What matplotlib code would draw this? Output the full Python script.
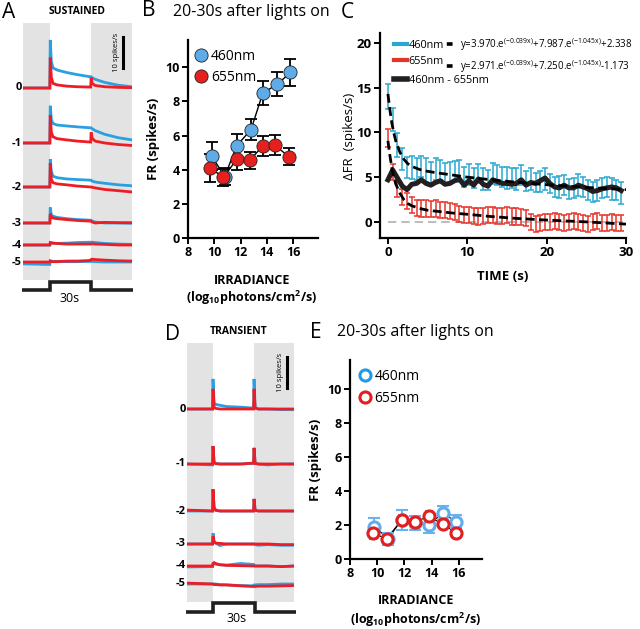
import numpy as np
import matplotlib
matplotlib.use('Agg')
import matplotlib.pyplot as plt
from matplotlib.lines import Line2D

plt.rcParams['font.family'] = ['Open Sans', 'DejaVu Sans']
plt.rcParams['mathtext.fontset'] = 'custom'
plt.rcParams['mathtext.rm'] = 'Open Sans'
plt.rcParams['mathtext.it'] = 'Open Sans:italic'
plt.rcParams['mathtext.bf'] = 'Open Sans:bold'

W, H = 640, 629

# ---------------- panel A / D : PSTH traces (spikes/s above baseline) -------------
LEVELS = ['0', '-1', '-2', '-3', '-4', '-5']

T_SUST = [-20, -0.3, 0, 0.8, 2, 5, 12, 20, 29.7, 30, 30.8, 33, 40, 50, 60]
SUST_BLUE = [
    [0, 0, 15.5, 8.5, 6.5, 5.8, 5.0, 4.3, 3.6, 3.6, 3.3, 2.8, 1.8, 0.9, 0.4],
    [0, 0, 12.0, 7.5, 6.3, 5.8, 5.5, 5.2, 4.9, 4.9, 4.6, 4.0, 2.8, 1.7, 1.0],
    [0, 0, 9.0, 5.0, 3.5, 3.0, 2.6, 2.4, 2.2, 2.2, 1.9, 1.6, 1.2, 0.7, 0.4],
    [0, 0, 5.0, 2.6, 2.2, 1.8, 1.4, 1.1, 0.9, 0.9, 0.6, 0.3, 0.0, 0.0, -0.1],
    [0, 0, 0.6, 0.7, 0.6, 0.5, 0.6, 0.8, 0.9, 0.9, 0.9, 0.8, 0.5, 0.3, 0.2],
    [-0.6, -0.8, 0.4, 0.3, 0.2, 0.2, 0.1, 0.1, 0.2, 0.2, 0.2, 0.1, 0.0, 0.0, 0.0],
]
SUST_RED = [
    [0, 0, 9.8, 3.5, 1.5, 1.0, 0.6, 0.4, 0.3, 3.3, 1.5, 0.8, 0.4, 0.2, 0.1],
    [0, 0, 9.0, 3.5, 2.0, 1.4, 1.0, 0.6, 0.3, 3.4, 1.5, 0.6, 0.0, -0.5, -0.8],
    [0, 0, 7.7, 2.5, 1.4, 1.0, 0.7, 0.3, 0.0, 0.0, -0.1, -0.3, -0.8, -1.2, -1.6],
    [0, 0, 3.0, 2.0, 1.6, 1.4, 1.1, 0.8, 0.6, 0.6, 0.3, 0.0, 0.2, 0.1, 0.1],
    [0, 0, 0.8, 0.7, 0.6, 0.5, 0.3, 0.3, 0.3, 0.3, 0.4, 0.3, 0.2, 0.0, 0.0],
    [0, 0, 0.3, 0.2, 0.1, 0.1, 0.3, 0.3, 0.5, 0.8, 0.9, 0.8, 0.6, 0.4, 0.3],
]

T_TRANS = [-19, -0.3, 0, 0.8, 2, 5, 10, 20, 29.7, 30, 30.8, 33, 40, 50, 59.2]
TRANS_BLUE = [
    [0, 0, 9.7, 2.0, 1.5, 1.2, 0.8, 0.6, 0.3, 9.7, 0.5, 0.0, 0.0, -0.2, -0.2],
    [0, -0.3, 5.8, 0.6, 0.2, 0.0, 0.0, 0.0, 0.2, 5.2, 0.3, 0.0, -0.3, 0.0, 0.0],
    [0, 0, 7.0, 1.0, 0.3, 0.0, 0.0, 0.0, 0.0, 3.9, 0.3, 0.0, 0.0, 0.0, 0.0],
    [0, 0, 3.5, 0.8, 0.3, -0.5, 0.0, 0.0, 0.0, 0.0, -0.2, -0.4, -0.2, -0.4, -0.4],
    [-0.3, -0.2, 0.7, 0.8, 0.6, 0.4, 0.3, 0.8, 0.5, 0.3, 0.0, 0.0, 0.0, -0.2, 0.0],
    [0, 0, 0.0, 0.0, 0.0, -0.2, -0.3, -0.5, -0.6, -0.3, -0.3, -0.2, -0.2, 0.0, 0.0],
]
TRANS_RED = [
    [0, 0, 6.5, 0.5, 0.2, 0.0, 0.0, 0.0, 0.0, 6.5, 0.3, 0.0, 0.0, 0.0, 0.0],
    [0, 0, 5.8, 0.5, 0.1, 0.0, 0.0, 0.0, 0.3, 5.2, 0.2, 0.0, 0.0, 0.0, 0.0],
    [0.3, 0, 7.0, 1.2, 0.2, 0.0, 0.0, 0.0, 0.0, 3.9, 0.2, 0.0, 0.0, 0.0, 0.0],
    [0, 0, 2.5, 0.6, 0.3, 0.2, 0.0, 0.0, 0.0, 0.0, 0.0, 0.0, 0.0, -0.2, -0.2],
    [0, 0, 0.8, 1.1, 0.8, 0.4, 0.2, 0.1, 0.0, 0.0, 0.0, 0.0, 0.0, -0.2, 0.0],
    [0.3, 0, 0.0, -0.2, -0.2, -0.3, -0.3, -0.6, -0.8, -0.8, -0.8, -0.7, -0.7, -0.6, -0.5],
]

STIM_T = [-20, 0, 0, 30, 30, 60]
STIM_ON = [0, 0, 1, 1, 0, 0]

# ---------------- panel B / E : FR vs irradiance -----------------
IRR_B_460 = [9.8, 10.8, 11.7, 12.8, 13.7, 14.8, 15.8]
FR_B_460 = [4.8, 3.6, 5.4, 6.35, 8.5, 9.0, 9.7]
ERR_B_460 = [0.8, 0.5, 0.7, 0.6, 0.7, 0.7, 0.8]
IRR_B_655 = [9.7, 10.7, 11.7, 12.7, 13.7, 14.6, 15.7]
FR_B_655 = [4.1, 3.55, 4.6, 4.55, 5.4, 5.45, 4.75]
ERR_B_655 = [0.8, 0.5, 0.6, 0.5, 0.6, 0.6, 0.5]

IRR_E_460 = [9.8, 10.8, 11.8, 12.8, 13.8, 14.8, 15.8]
FR_E_460 = [1.9, 1.2, 2.3, 2.1, 2.0, 2.7, 2.2]
ERR_E_460 = [0.5, 0.35, 0.6, 0.4, 0.5, 0.4, 0.4]
IRR_E_655 = [9.7, 10.7, 11.8, 12.8, 13.8, 14.8, 15.8]
FR_E_655 = [1.5, 1.2, 2.3, 2.2, 2.5, 2.05, 1.55]
ERR_E_655 = [0.3, 0.3, 0.3, 0.3, 0.3, 0.3, 0.3]

# ---------------- panel C : delta FR over time -----------------
TIME_C = np.arange(50) * 0.6
DFR_460 = [14.0, 11.4, 8.6, 7.0, 6.1, 6.1, 5.9, 6.2, 5.8, 5.5,
           5.9, 5.8, 5.4, 5.5, 5.7, 5.7, 5.0, 5.3, 4.9, 5.4,
           4.8, 4.7, 5.4, 5.2, 5.0, 4.9, 4.9, 4.8, 5.2, 4.6,
           4.8, 4.4, 4.5, 4.8, 4.3, 3.9, 3.9, 4.1, 3.7, 3.8,
           4.1, 3.9, 3.6, 3.3, 3.5, 3.8, 3.9, 3.7, 3.6, 3.2]
SEM_460 = [1.4, 1.3, 1.3, 1.2, 1.2, 1.3, 1.2, 1.2, 1.3, 1.2,
           1.2, 1.1, 1.2, 1.2, 1.1, 1.2, 1.1, 1.2, 1.1, 1.1,
           1.2, 1.1, 1.2, 1.1, 1.1, 1.2, 1.1, 1.2, 1.1, 1.1,
           1.2, 1.1, 1.2, 1.2, 1.1, 1.1, 1.2, 1.1, 1.1, 1.1,
           1.2, 1.1, 1.1, 1.1, 1.2, 1.1, 1.1, 1.2, 1.1, 1.2]
DFR_655 = [9.4, 5.6, 3.7, 2.8, 2.3, 1.9, 1.6, 1.5, 1.5, 1.4,
           1.5, 1.3, 1.3, 1.2, 1.1, 0.9, 0.8, 0.8, 0.7, 0.6,
           0.7, 0.8, 0.8, 0.7, 0.7, 0.8, 0.6, 0.6, 0.5, 0.4,
           0.0, -0.2, -0.1, 0.0, 0.0, 0.1, 0.0, -0.1, 0.0, 0.1,
           0.0, -0.1, -0.2, 0.0, 0.1, -0.1, -0.1, 0.0, -0.1, -0.1]
SEM_655 = [1.0, 0.9, 0.9, 0.9, 0.9, 0.9, 0.9, 0.9, 0.9, 0.9,
           0.9, 0.9, 0.9, 0.9, 0.9, 0.9, 0.9, 0.9, 0.9, 0.9,
           0.9, 0.9, 0.9, 0.9, 0.9, 0.9, 0.9, 0.9, 0.9, 0.9,
           0.9, 0.9, 0.9, 0.9, 0.9, 0.9, 0.9, 0.9, 0.9, 0.9,
           0.9, 0.9, 0.9, 0.9, 0.9, 0.9, 0.9, 0.9, 0.9, 0.9]
DFR_DIFF = [4.7, 5.8, 4.9, 4.0, 3.6, 4.2, 4.3, 4.7, 4.3, 4.1,
            4.4, 4.6, 4.2, 4.3, 4.6, 4.8, 4.1, 4.6, 4.1, 4.8,
            4.2, 4.0, 4.7, 4.5, 4.3, 4.3, 4.2, 4.3, 4.7, 4.1,
            4.4, 4.3, 4.6, 4.9, 4.3, 3.9, 3.8, 4.1, 3.8, 3.8,
            4.1, 3.9, 3.7, 3.4, 3.5, 3.7, 3.8, 3.9, 3.8, 3.5]
FIT_T = [0, 0.25, 0.5, 0.75, 1, 1.5, 2, 2.5, 3, 4, 5, 6, 8, 10, 13, 16, 20, 25, 30]
FIT_460 = [14.3, 12.5, 11.0, 9.9, 9.0, 7.8, 7.0, 6.5, 6.2, 5.85, 5.65, 5.5, 5.25, 5.0, 4.7, 4.45, 4.15, 3.85, 3.6]
FIT_655 = [9.05, 7.4, 6.0, 5.0, 4.2, 3.2, 2.5, 2.05, 1.8, 1.5, 1.3, 1.2, 1.0, 0.85, 0.6, 0.4, 0.2, 0.0, -0.25]
EQ_460 = r'y=3.970.e$^{\mathrm{(-0.039x)}}$+7.987.e$^{\mathrm{(-1.045x)}}$+2.338'
EQ_655 = r'y=2.971.e$^{\mathrm{(-0.039x)}}$+7.250.e$^{\mathrm{(-1.045x)}}$-1.173'

TR_BLUE = '#2a9fe2'
TR_RED = '#ee1c24'
GRAY = '#e3e3e3'

fig = plt.figure(figsize=(W / 100, H / 100), dpi=100)


def px_axes(l, t, r, b):
    return fig.add_axes([l / W, 1 - b / H, (r - l) / W, (b - t) / H])


def ftext(x, y, s, **kw):
    kw.setdefault('ha', 'center')
    kw.setdefault('va', 'center')
    fig.text(x / W, 1 - y / H, s, **kw)


def trace_panel(box, tlim, scale, bases, t, blue, red, bar_t, bar_y):
    ax = px_axes(*box)
    ax.set_xlim(*tlim)
    ax.set_ylim(0, scale)
    ax.axvspan(tlim[0], 0, color=GRAY, lw=0)
    ax.axvspan(30, tlim[1], color=GRAY, lw=0)
    for i, lab in enumerate(LEVELS):
        ax.plot(t, np.array(blue[i]) + bases[i], color=TR_BLUE, lw=2.0, solid_joinstyle='miter')
        ax.plot(t, np.array(red[i]) + bases[i], color=TR_RED, lw=2.0, solid_joinstyle='miter')
        ax.text(tlim[0] - 0.8, bases[i], lab, ha='right', va='center', fontsize=8,
                fontweight='bold')
    ax.plot([bar_t, bar_t], [bar_y, bar_y - 10], color='black', lw=2.2, clip_on=False)
    ax.text(bar_t - 5, bar_y - 5, '10 spikes/s', rotation=90, ha='center', va='center',
            fontsize=5.5)
    ax.axis('off')
    return ax


def stim_panel(box, tlim, ylim):
    ax = px_axes(*box)
    ax.plot(STIM_T, STIM_ON, color='#231f20', lw=2.6, solid_joinstyle='miter')
    ax.set_xlim(tlim[0] - 0.8, tlim[1] + 0.8)
    ax.set_ylim(*ylim)
    ax.axis('off')


# panel A
base_a = [(280 - p) / 3.1 for p in (88, 143, 187, 223, 245, 262)]
trace_panel((23, 23, 132, 280), (-20, 60), 257 / 3.1, base_a, T_SUST, SUST_BLUE, SUST_RED,
            53.4, 78.4)
stim_panel((22, 278, 133, 296), (-20, 60), (-0.75, 1.5))
ftext(2, 13, 'A', fontsize=15, ha='left')
ftext(77, 12, 'SUSTAINED', fontsize=7.5, fontweight='bold')
ftext(70, 298, '30s', fontsize=9)

# panel D
base_d = [(602 - p) / 3.1 for p in (409, 464, 511, 544, 566, 584)]
trace_panel((187, 343, 294, 602), (-19, 59.2), 259 / 3.1, base_d, T_TRANS, TRANS_BLUE,
            TRANS_RED, 54.0, 79.0)
stim_panel((186, 598, 296, 616), (-19, 59.2), (-0.444, 1.556))
ftext(165, 334, 'D', fontsize=15, ha='left')
ftext(239, 332, 'TRANSIENT', fontsize=7.5, fontweight='bold')
ftext(237, 619, '30s', fontsize=9)


def style_axes(ax):
    for s in ('top', 'right'):
        ax.spines[s].set_visible(False)
    for s in ('left', 'bottom'):
        ax.spines[s].set_linewidth(1.6)
    ax.tick_params(width=1.4, length=4, labelsize=9, pad=2)
    for lab in ax.get_xticklabels() + ax.get_yticklabels():
        lab.set_fontweight('bold')


def irradiance_panel(box, xmax, ymax):
    ax = px_axes(*box)
    ax.set_xlim(8, xmax)
    ax.set_ylim(0, ymax)
    ax.set_xticks([8, 10, 12, 14, 16])
    ax.set_yticks([0, 2, 4, 6, 8, 10])
    style_axes(ax)
    return ax


# panel B
axb = irradiance_panel((188, 40, 318, 238), 17.9, 11.6)
axb.plot(IRR_B_460, FR_B_460, color='black', lw=1, zorder=2)
axb.plot(IRR_B_655, FR_B_655, color='black', lw=1, zorder=2)
axb.errorbar(IRR_B_460, FR_B_460, yerr=ERR_B_460, fmt='none', ecolor='black', elinewidth=1.3,
             capsize=4, capthick=1.3, zorder=1)
axb.errorbar(IRR_B_655, FR_B_655, yerr=ERR_B_655, fmt='none', ecolor='black', elinewidth=1.3,
             capsize=4, capthick=1.3, zorder=1)
hb1, = axb.plot(IRR_B_460, FR_B_460, 'o', ms=9.5, mfc='#5eabe8', mec='#222222', mew=0.6,
                zorder=3, label='460nm')
hb2, = axb.plot(IRR_B_655, FR_B_655, 'o', ms=9.5, mfc='#e5201e', mec='#222222', mew=0.6,
                zorder=3, label='655nm')
axb.legend(handles=[hb1, hb2], loc='upper left', bbox_to_anchor=(0.06, 0.955), frameon=False,
           fontsize=10, handlelength=0.8, handletextpad=0.3, labelspacing=0.45,
           borderaxespad=0, borderpad=0)
axb.set_ylabel('FR (spikes/s)', fontsize=9.5, fontweight='bold')
ftext(142, 11, 'B', fontsize=15, ha='left')
ftext(173, 12, '20-30s after lights on', fontsize=11.5, ha='left')
ftext(252, 280, 'IRRADIANCE', fontsize=9, fontweight='bold')
ftext(252, 298, r'(log$_{\mathbf{10}}$photons/cm$^{\mathbf{2}}$/s)', fontsize=9,
      fontweight='bold')

# panel E
axe = irradiance_panel((350, 360, 482, 559), 17.7, 11.7)
axe.plot(IRR_E_460, FR_E_460, color='black', lw=0.8, zorder=2)
axe.plot(IRR_E_655, FR_E_655, color='black', lw=0.8, zorder=2)
axe.errorbar(IRR_E_460, FR_E_460, yerr=ERR_E_460, fmt='none', ecolor='#6cb2ee', elinewidth=1.5,
             capsize=4, capthick=1.5, zorder=3)
he1, = axe.plot(IRR_E_460, FR_E_460, 'o', ms=8, mfc='white', mec='#62acec', mew=2.2,
                zorder=4, label='460nm')
axe.errorbar(IRR_E_655, FR_E_655, yerr=ERR_E_655, fmt='none', ecolor='#e21f1f', elinewidth=1.2,
             capsize=3, capthick=1.2, zorder=1)
he2, = axe.plot(IRR_E_655, FR_E_655, 'o', ms=8, mfc='white', mec='#e21f1f', mew=2.2,
                zorder=5, label='655nm')
leg_e = axe.legend(handles=[he1, he2], loc='upper left', bbox_to_anchor=(0.07, 0.955),
                   frameon=False, fontsize=10, handlelength=0.8, handletextpad=0.3,
                   labelspacing=0.5, borderaxespad=0, borderpad=0)
leg_e.legend_handles[0].set_markeredgecolor('#1c9be6')
axe.set_ylabel('FR (spikes/s)', fontsize=9.5, fontweight='bold')
ftext(310, 332, 'E', fontsize=15, ha='left')
ftext(337, 332, '20-30s after lights on', fontsize=11.5, ha='left')
ftext(416, 601, 'IRRADIANCE', fontsize=9, fontweight='bold')
ftext(416, 620, r'(log$_{\mathbf{10}}$photons/cm$^{\mathbf{2}}$/s)', fontsize=9,
      fontweight='bold')

# panel C
axc = px_axes(380, 33, 626, 238)
axc.set_xlim(-1, 30)
axc.set_ylim(-1.8, 21.1)
axc.set_xticks([0, 10, 20, 30])
axc.set_yticks([0, 5, 10, 15, 20])
style_axes(axc)
axc.tick_params(labelsize=9.5)
axc.axhline(0, xmin=1 / 31, color='#b0b0b0', lw=1.2, dashes=(5, 3), zorder=0)
axc.errorbar(TIME_C, DFR_460, yerr=SEM_460, fmt='none', ecolor='#2aa7cf', elinewidth=1.1,
             capsize=2.5, capthick=1.1, zorder=2)
axc.errorbar(TIME_C, DFR_655, yerr=SEM_655, fmt='none', ecolor='#e5352b', elinewidth=1.1,
             capsize=2.5, capthick=1.1, zorder=2)
axc.plot(TIME_C, DFR_DIFF, color='#231f20', lw=3.6, zorder=3)
axc.plot(FIT_T, FIT_460, color='black', lw=2.0, dashes=(3.2, 1.6), zorder=4)
axc.plot(FIT_T, FIT_655, color='black', lw=2.0, dashes=(3.2, 1.6), zorder=4)
h_b = Line2D([], [], color='#2aa7cf', lw=3)
h_r = Line2D([], [], color='#e5352b', lw=3)
h_f = Line2D([], [], color='black', lw=2.6, linestyle=(0, (0, 0.5, 1.6, 20)))
h_d = Line2D([], [], color='#231f20', lw=4)
leg1 = axc.legend([h_b, h_r, h_f, h_f], ['460nm', '655nm', EQ_460, EQ_655], ncol=2,
                  loc='upper left', bbox_to_anchor=(0.055, 0.985), frameon=False, fontsize=7.8,
                  handlelength=1.2, handletextpad=0.2, columnspacing=0.1, labelspacing=0.45,
                  borderaxespad=0, borderpad=0)
for txt in leg1.get_texts()[2:]:
    txt.set_fontsize(7.0)
axc.add_artist(leg1)
axc.legend([h_d], ['460nm - 655nm'], loc='upper left', bbox_to_anchor=(0.055, 0.795),
           frameon=False, fontsize=7.8, handlelength=1.2, handletextpad=0.2,
           borderaxespad=0, borderpad=0)
ftext(349, 136, 'ΔFR  (spikes/s)', fontsize=9.5, rotation=90)
ftext(503, 277, 'TIME (s)', fontsize=9.5, fontweight='bold')
ftext(341, 12, 'C', fontsize=15, ha='left')

fig.savefig('out.png', dpi=100)
